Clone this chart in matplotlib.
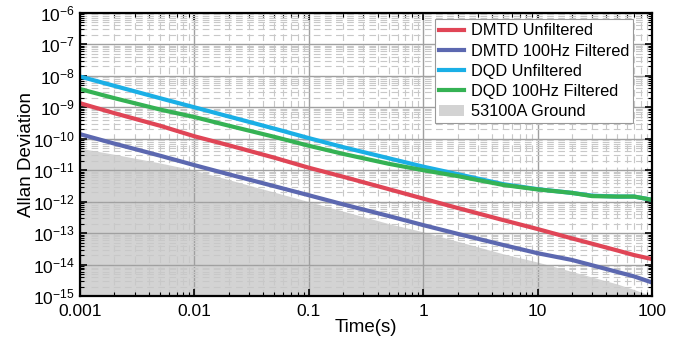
import matplotlib
matplotlib.use("Agg")
from matplotlib import pyplot as plt
from matplotlib import ticker
import numpy as np

plt.rcParams['font.family'] = ['Liberation Sans', 'DejaVu Sans']
plt.rcParams['mathtext.fontset'] = 'custom'
plt.rcParams['mathtext.rm'] = 'Liberation Sans'
plt.rcParams['mathtext.it'] = 'Liberation Sans:italic'
plt.rcParams['mathtext.bf'] = 'Liberation Sans:bold'

# averaging time (s)
tau = [0.001, 0.002, 0.005, 0.01, 0.02, 0.05, 0.1, 0.2, 0.5, 1, 2, 5, 10, 20, 30, 50, 70, 100]

# Allan deviation
dmtd_unfilt = [1.35e-9, 6.5e-10, 2.6e-10, 1.2e-10, 6.2e-11, 2.5e-11, 1.2e-11, 6.2e-12, 2.5e-12,
               1.25e-12, 6.3e-13, 2.6e-13, 1.35e-13, 6.8e-14, 4.6e-14, 2.8e-14, 2.0e-14, 1.5e-14]
dmtd_filt = [1.4e-10, 7e-11, 2.9e-11, 1.45e-11, 7.4e-12, 3.1e-12, 1.6e-12, 8.2e-13, 3.5e-13,
             1.8e-13, 9.5e-14, 4.2e-14, 2.3e-14, 1.4e-14, 9.5e-15, 5.8e-15, 4.2e-15, 2.7e-15]
dqd_unfilt = [9.5e-9, 4.8e-9, 1.95e-9, 1e-9, 5.1e-10, 2.1e-10, 1.05e-10, 5.4e-11, 2.4e-11,
              1.3e-11, 7.5e-12, 3.6e-12, 2.5e-12, 1.9e-12, 1.55e-12, 1.45e-12, 1.45e-12, 1.15e-12]
dqd_filt = [3.8e-9, 1.95e-9, 8.5e-10, 4.9e-10, 2.6e-10, 1.15e-10, 6e-11, 3.3e-11, 1.6e-11,
            1e-11, 6.5e-12, 3.4e-12, 2.45e-12, 1.9e-12, 1.5e-12, 1.45e-12, 1.45e-12, 1.15e-12]
ground = [5e-11, 3.2e-11, 1.7e-11, 1e-11, 5e-12, 2e-12, 1e-12, 5e-13, 2e-13,
          1.1e-13, 5.5e-14, 2.2e-14, 1.2e-14, 6e-15, 4e-15, 2.4e-15, 1.6e-15, 1e-15]

fig = plt.figure(figsize=(6.94, 3.39), dpi=100)
ax = fig.add_axes([0.1153, 0.1268, 0.824, 0.835])

ax.fill_between(tau, ground, 1e-16, color='#d3d3d3', linewidth=0, label='53100A Ground')
ax.plot(tau, dmtd_unfilt, color='#e04556', lw=3, label='DMTD Unfiltered')
ax.plot(tau, dmtd_filt, color='#5c68b0', lw=3, label='DMTD 100Hz Filtered')
ax.plot(tau, dqd_unfilt, color='#1aafe6', lw=3, label='DQD Unfiltered')
ax.plot(tau, dqd_filt, color='#35b254', lw=3, label='DQD 100Hz Filtered')

ax.set_xscale('log')
ax.set_yscale('log')
ax.set_xlim(0.001, 100)
ax.set_ylim(1e-15, 1e-6)

ax.xaxis.set_major_locator(ticker.LogLocator(base=10, numticks=20))
ax.xaxis.set_major_formatter(ticker.FuncFormatter(lambda v, p: '%g' % v))
ax.yaxis.set_major_locator(ticker.LogLocator(base=10, numticks=20))
ax.xaxis.set_minor_locator(ticker.LogLocator(base=10, subs=np.arange(2, 10), numticks=20))
ax.yaxis.set_minor_locator(ticker.LogLocator(base=10, subs=np.arange(2, 10), numticks=20))
ax.xaxis.set_minor_formatter(ticker.NullFormatter())
ax.yaxis.set_minor_formatter(ticker.NullFormatter())

ax.grid(True, which='major', color='#a0a0a0', lw=1, ls='-')
ax.grid(True, which='minor', color='#c8c8c8', lw=0.8, ls=(0, (6, 4)))

ax.tick_params(which='both', direction='in', top=True, right=True, labelsize=12.5)
ax.tick_params(which='major', length=5, width=1.2)
ax.tick_params(which='minor', length=3, width=0.8)
ax.tick_params(axis='x', which='major', pad=6)
ax.tick_params(axis='y', which='major', pad=4)
for s in ax.spines.values():
    s.set_linewidth(1.6)

ax.set_xlabel('Time(s)', fontsize=13.5, labelpad=0)
ax.set_ylabel('Allan Deviation', fontsize=13.5, labelpad=-2)

handles, labels = ax.get_legend_handles_labels()
order = [1, 2, 3, 4, 0]
leg = ax.legend([handles[i] for i in order], [labels[i] for i in order], loc='upper right',
                bbox_to_anchor=(0.976, 0.995), fontsize=11.8, fancybox=False, framealpha=1,
                edgecolor='#999999', handlelength=1.55, borderpad=0.25, labelspacing=0.32,
                handletextpad=0.4, borderaxespad=0.3)
leg.get_frame().set_linewidth(0.8)

fig.savefig('out.png', dpi=100)
